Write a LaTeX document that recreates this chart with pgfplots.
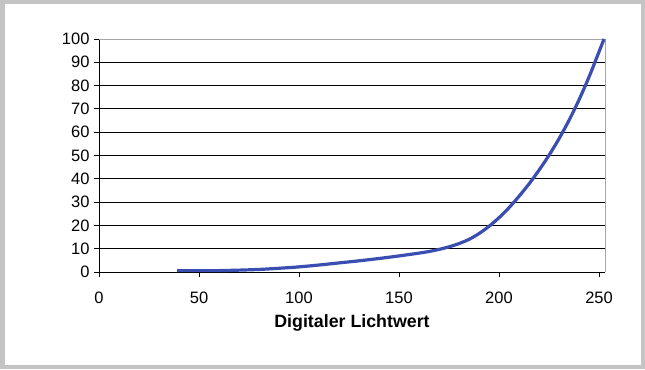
\documentclass[border=0pt]{standalone}
\usepackage{pgfplots}
\pgfplotsset{compat=1.18}
\usepackage{fontspec}
\setmainfont{Liberation Sans}
\definecolor{curve}{RGB}{58,78,178}
\definecolor{frame}{RGB}{196,196,196}
\begin{document}
\begin{tikzpicture}[x=1bp,y=1bp]
\fill[white] (0,0) rectangle (645,369);
\draw[frame, line width=4.5bp] (2.25,2.25) rectangle (642.75,366.75);
\begin{axis}[
  at={(99bp,97bp)}, anchor=south west,
  scale only axis, width=506bp, height=233bp,
  xmin=0, xmax=253, ymin=0, ymax=100,
  xtick={0,50,...,250},
  ytick={0,10,...,90},
  extra y ticks={100},
  extra y tick style={grid=none},
  ymajorgrids,
  major grid style={black, line width=0.8bp},
  axis x line*=bottom, axis y line*=left,
  axis line style={black, line width=0.8bp, -},
  tick align=outside,
  major tick length=5bp,
  tick style={black, line width=0.8bp},
  /pgf/number format/assume math mode=true,
  every tick label/.append style={font=\fontsize{16.5bp}{20bp}\selectfont},
  every x tick label/.append style={yshift=-11bp},
  every y tick label/.append style={xshift=-1bp},
  xlabel={\textbf{Digitaler Lichtwert}},
  xlabel style={font=\fontsize{17.8bp}{21bp}\selectfont, yshift=-5bp},
  clip=false,
]
\draw[gray!70, line width=0.8bp] (rel axis cs:0,1) -- (rel axis cs:1,1) -- (rel axis cs:1,0);
\addplot[curve, line width=3.2bp, smooth, tension=0.5] coordinates {
(39,0.6) (50,0.6) (60,0.6) (70,0.8) (80,1.1) (90,1.6) (100,2.2) (110,3.0)
(120,3.9) (130,4.8) (140,5.8) (150,6.9) (155,7.5) (160,8.1) (165,8.8)
(170,9.7) (175,10.8) (180,12.2) (185,14.0) (190,16.5) (195,19.6)
(200,23.3) (205,27.6) (210,32.5) (215,37.8) (220,43.7) (225,50.1)
(230,57.2) (235,65.1) (240,73.9) (245,83.7) (250,94.5) (252.5,100)
};
\end{axis}
\end{tikzpicture}
\end{document}
